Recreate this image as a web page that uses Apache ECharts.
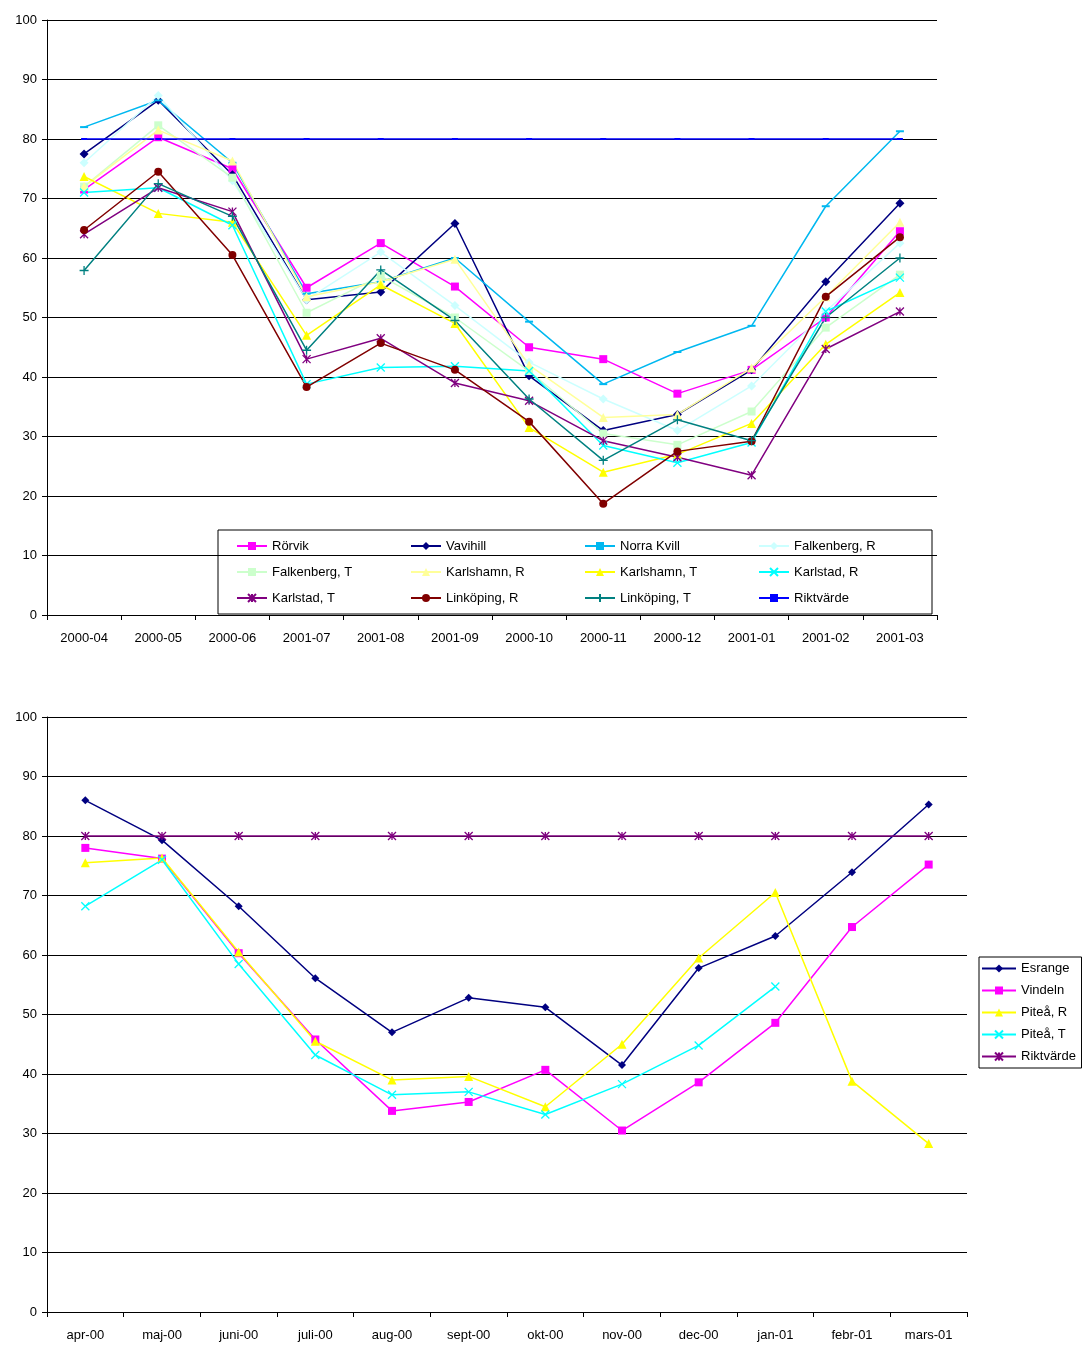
<!DOCTYPE html>
<html>
<head>
<meta charset="utf-8">
<script src="https://cdn.jsdelivr.net/npm/echarts@6/dist/echarts.min.js"></script>
<style>html,body{margin:0;padding:0;background:#fff}#chart{width:1082px;height:1346px}</style>
</head>
<body>
<div id="chart"></div>
<script>
var topMonths = ['2000-04','2000-05','2000-06','2001-07','2001-08','2001-09','2000-10','2000-11','2000-12','2001-01','2001-02','2001-03'];
var rorvik      = [71.5, 80.3, 75, 55, 62.5, 55.2, 45, 43, 37.2, 41.2, 50, 64.5];
var vavihill    = [77.5, 86.5, 74, 53, 54.3, 65.8, 40.2, 31, 33.7, 41.2, 56, 69.2];
var norraKvill  = [82, 86.5, 76, 54, 56, 60, 49.3, 38.8, 44.2, 48.6, 68.7, 81.3];
var falkenbergR = [76, 87.3, 73, 53, 61, 52, 42.5, 36.3, 31, 38.5, 51, 62.5];
var falkenbergT = [72, 82.3, 73.5, 50.8, 57, 50, 41, 30.5, 28.6, 34.2, 48.3, 57.2];
var karlshamnR  = [72, 81.5, 76.3, 53.5, 56, 59.8, 42, 33.2, 33.7, 41.5, 53.5, 66];
var karlshamnT  = [73.7, 67.5, 66, 47, 55.5, 49, 31.5, 24, 27, 32.2, 45.5, 54.2];
var karlstadR   = [71, 71.8, 65.5, 38.8, 41.6, 41.8, 41, 28.5, 25.6, 29, 51, 56.7];
var karlstadT   = [64, 71.8, 67.8, 43, 46.5, 39, 36, 29.3, 26.5, 23.5, 44.7, 51];
var linkopingR  = [64.7, 74.5, 60.5, 38.3, 45.7, 41.2, 32.5, 18.7, 27.5, 29.2, 53.5, 63.5];
var linkopingT  = [57.9, 72.5, 67, 44.5, 58, 49.5, 36.3, 26, 32.8, 29.3, 50, 60];
var riktTop     = [80, 80, 80, 80, 80, 80, 80, 80, 80, 80, 80, 80];

var bottomMonths = ['apr-00','maj-00','juni-00','juli-00','aug-00','sept-00','okt-00','nov-00','dec-00','jan-01','febr-01','mars-01'];
var esrange  = [86, 79.3, 68.2, 56.1, 47, 52.8, 51.2, 41.5, 57.8, 63.2, 73.9, 85.3];
var vindeln  = [78, 76.2, 60.3, 45.8, 33.8, 35.3, 40.7, 30.5, 38.6, 48.6, 64.7, 75.2];
var piteaR   = [75.5, 76.3, 60.5, 45.5, 39, 39.6, 34.5, 45, 59.5, 70.5, 38.8, 28.3];
var piteaT   = [68.2, 76, 58.5, 43.2, 36.5, 37, 33.2, 38.3, 44.8, 54.7, null, null];
var riktBot  = [80, 80, 80, 80, 80, 80, 80, 80, 80, 80, 80, 80];

var X = 'path://M0,0L10,10M10,0L0,10';
var STAR = 'path://M5,0L5,10M0,0L10,10M10,0L0,10';
var PLUS = 'path://M5,0L5,10M0,5L10,5';
var font = 'Liberation Sans, Arial, sans-serif';

function line(name, data, color, symbol, size, idx, stroke) {
    return {
        name: name, type: 'line', data: data,
        xAxisIndex: idx, yAxisIndex: idx,
        symbol: symbol, symbolSize: size,
        lineStyle: {color: color, width: 1.5},
        itemStyle: stroke ? {color: color, borderColor: color, borderWidth: 1.3} : {color: color},
        animation: false
    };
}

function xAxis(idx, data) {
    return {
        type: 'category', gridIndex: idx, data: data, boundaryGap: true,
        axisLine: {lineStyle: {color: '#000'}},
        axisTick: {show: true, length: 5, lineStyle: {color: '#000'}},
        axisLabel: {color: '#000', fontSize: 13, fontFamily: font, margin: 17}
    };
}
function yAxis(idx) {
    return {
        type: 'value', gridIndex: idx, min: 0, max: 100, interval: 10,
        axisLine: {show: true, lineStyle: {color: '#000'}},
        axisTick: {show: true, length: 5, lineStyle: {color: '#000'}},
        splitLine: {lineStyle: {color: '#000', width: 1}},
        axisLabel: {color: '#000', fontSize: 13, fontFamily: font, margin: 10}
    };
}

var option = {
    backgroundColor: '#fff',
    grid: [
        {left: 47, width: 890, top: 20, height: 595},
        {left: 47, width: 920, top: 717, height: 595}
    ],
    xAxis: [xAxis(0, topMonths), xAxis(1, bottomMonths)],
    yAxis: [yAxis(0), yAxis(1)],
    legend: [
        {
            data: ['Rörvik','Vavihill','Norra Kvill','Falkenberg, R','Falkenberg, T','Karlshamn, R','Karlshamn, T','Karlstad, R','Karlstad, T','Linköping, R','Linköping, T','Riktvärde'],
            left: 218, top: 530, width: 700, orient: 'horizontal',
            itemWidth: 30, itemHeight: 10, itemGap: 0,
            borderColor: '#000', borderWidth: 1, padding: [3, 0, 3, 18],
            textStyle: {color: '#000', fontSize: 13, fontFamily: font, width: 138, height: 26, lineHeight: 26}
        },
        {
            data: ['Esrange','Vindeln','Piteå, R','Piteå, T','Riktvärde '],
            left: 979, top: 957, orient: 'vertical',
            itemWidth: 34, itemHeight: 10, itemGap: 9,
            borderColor: '#000', borderWidth: 1, padding: [5, 2, 5, 2],
            textStyle: {color: '#000', fontSize: 13, fontFamily: font}
        }
    ],
    series: [
        line('Rörvik', rorvik, '#FF00FF', 'rect', 8, 0),
        line('Vavihill', vavihill, '#000080', 'diamond', 9, 0),
        line('Norra Kvill', norraKvill, '#00B8F0', 'rect', [8, 2], 0),
        line('Falkenberg, R', falkenbergR, '#CCFFFF', 'diamond', 9, 0),
        line('Falkenberg, T', falkenbergT, '#CCFFCC', 'rect', 8, 0),
        line('Karlshamn, R', karlshamnR, '#FFFF99', 'triangle', 9, 0),
        line('Karlshamn, T', karlshamnT, '#FFFF00', 'triangle', 9, 0),
        line('Karlstad, R', karlstadR, '#00FFFF', X, 8, 0, true),
        line('Karlstad, T', karlstadT, '#800080', STAR, 8, 0, true),
        line('Linköping, R', linkopingR, '#800000', 'circle', 8, 0),
        line('Linköping, T', linkopingT, '#008080', PLUS, 9, 0, true),
        line('Riktvärde', riktTop, '#0000FF', 'rect', [6, 2], 0),
        line('Esrange', esrange, '#000080', 'diamond', 8, 1),
        line('Vindeln', vindeln, '#FF00FF', 'rect', 8, 1),
        line('Piteå, R', piteaR, '#FFFF00', 'triangle', 9, 1),
        line('Piteå, T', piteaT, '#00FFFF', X, 8, 1, true),
        line('Riktvärde ', riktBot, '#800080', STAR, 8, 1, true)
    ]
};

var myChart = echarts.init(document.getElementById('chart'));
myChart.setOption(option);
</script>
</body>
</html>
